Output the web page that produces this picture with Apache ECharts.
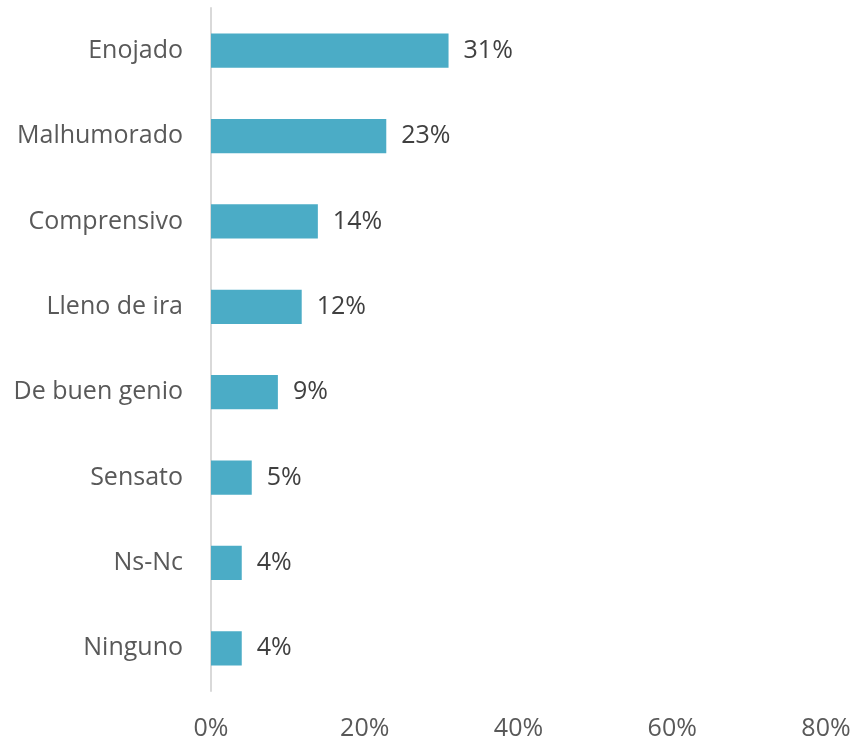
<!DOCTYPE html>
<html>
<head>
<meta charset="utf-8">
<script src="https://cdn.jsdelivr.net/npm/echarts@6/dist/echarts.min.js"></script>
<style>html,body{margin:0;padding:0;background:#fff;}#c{width:863px;height:741px;}</style>
</head>
<body>
<div id="c"></div>
<script>
var categories = ["Enojado", "Malhumorado", "Comprensivo", "Lleno de ira", "De buen genio", "Sensato", "Ns-Nc", "Ninguno"];
var values = [30.9, 22.8, 13.9, 11.8, 8.7, 5.3, 4.0, 4.0];
var tickValues = [0, 20, 40, 60, 80];

var chart = echarts.init(document.getElementById('c'));
chart.setOption({
  animation: false,
  grid: {left: 211, right: 37, top: 8, bottom: 49, containLabel: false},
  xAxis: {
    type: 'value', min: tickValues[0], max: tickValues[tickValues.length - 1], interval: 20,
    axisLine: {show: false}, axisTick: {show: false}, splitLine: {show: false},
    axisLabel: {formatter: '{value}%', color: '#595959', fontFamily: 'Open Sans', fontSize: 25, margin: 25}
  },
  yAxis: {
    type: 'category', data: categories, inverse: true,
    axisLine: {show: true, lineStyle: {color: '#d9d9d9', width: 2}},
    axisTick: {show: false},
    axisLabel: {color: '#595959', fontFamily: 'Open Sans', fontSize: 25, margin: 28, padding: [4, 0, 0, 0]}
  },
  series: [{
    type: 'bar', data: values, barWidth: '40%',
    itemStyle: {color: '#4BACC6'},
    label: {show: true, position: 'right', distance: 15, color: '#404040', fontFamily: 'Open Sans', fontSize: 25,
      padding: [4, 0, 0, 0],
      formatter: function (p) { return Math.round(p.value) + '%'; }}
  }]
});
</script>
</body>
</html>
